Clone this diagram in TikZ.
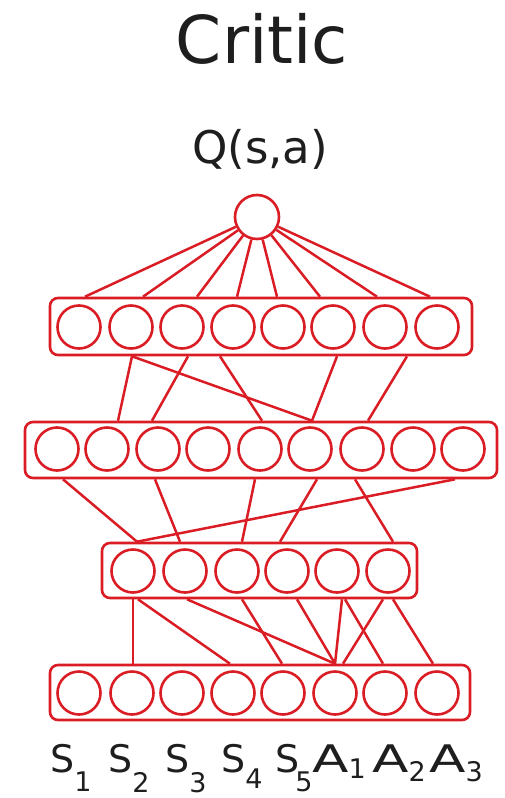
\documentclass[tikz,border=0pt]{standalone}
\usepackage{fontspec}
\usepackage{graphicx}
\usetikzlibrary{calc}
\newfontfamily\dv{DejaVu Sans}
\definecolor{nnred}{RGB}{218,28,36}
\definecolor{txt}{RGB}{30,30,30}
\newcommand\subl[2]{\raisebox{-#1pt}{\fontsize{27}{27}\selectfont #2}}
\newcommand\bigA{\scalebox{1.4}[1]{A}}
\begin{document}
\begin{tikzpicture}[x=1pt,y=-1pt,
 neuron/.style={circle,draw=nnred,line width=2.6pt,minimum size=43pt,inner sep=0pt},
 layerbox/.style={draw=nnred,line width=2.6pt,rounded corners=8pt,inner sep=0pt},
 link/.style={draw=nnred,line width=2.5pt},
 lbl/.style={anchor=base west,inner sep=0pt,text=txt,font=\dv\fontsize{38}{38}\selectfont}]
\useasboundingbox (0,0) rectangle (505,798);

% titles
\node[text=txt,font=\dv\fontsize{66}{66}\selectfont,anchor=base,inner sep=0pt] (title) at (262,63) {Critic};
\node[text=txt,font=\dv\fontsize{45}{45}\selectfont,anchor=base,inner sep=0pt] (q) at (260,163) {Q(s,a)};

% layer boxes
\node[layerbox,minimum width=422pt,minimum height=57pt] (L1) at (261,326.5) {};
\node[layerbox,minimum width=472pt,minimum height=56pt] (L2) at (261,450) {};
\node[layerbox,minimum width=315pt,minimum height=55pt] (L3) at (259.5,570.5) {};
\node[layerbox,minimum width=420pt,minimum height=55pt] (L4) at (260,692.5) {};

% neurons
\node[neuron,minimum size=44pt] (top) at (257,217) {};
\foreach \x [count=\i] in {79,131,182,233,283,333,385,437}
  \node[neuron] (l1c\i) at (\x,327) {};
\foreach \x [count=\i] in {57,107,158,208,260,310,362,413,463}
  \node[neuron] (l2c\i) at (\x,449) {};
\foreach \x [count=\i] in {133,185,237,287,337,388}
  \node[neuron] (l3c\i) at (\x,571) {};
\foreach \x [count=\i] in {79,132,182,233,283,335,385,437}
  \node[neuron] (l4c\i) at (\x,693) {};

% output fan
\foreach \i/\d in {1/6,2/12,3/15,4/4,5/-6,6/-13,7/-8,8/-7}
  \draw[link] (top) -- ($(L1.north -| l1c\i)+(\d,0)$);

% layer 1 -> layer 2
\foreach \a/\da/\b/\db in {2/1/2/11, 2/1/6/2, 3/6/3/-6, 4/-13/5/2, 6/4/6/2, 7/22/7/6}
  \draw[link] ($(L1.south -| l1c\a)+(\da,0)$) -- ($(L2.north -| l2c\b)+(\db,0)$);

% layer 2 -> layer 3
\foreach \a/\da/\b/\db in {1/6/1/4, 3/-3/2/-5, 5/-5/3/5, 6/7/4/-7, 7/-7/6/5, 9/-8/1/4}
  \draw[link] ($(L2.south -| l2c\a)+(\da,0)$) -- ($(L3.north -| l3c\b)+(\db,0)$);

% layer 3 -> layer 4
\foreach \a/\da/\b/\db in {1/0/2/1, 1/5/4/-3, 2/2/6/0, 3/5/5/-1, 4/10/6/0, 5/5/6/0, 5/8/7/-2, 6/-5/6/8, 6/5/8/-4}
  \draw[link] ($(L3.south -| l3c\a)+(\da,0)$) -- ($(L4.north -| l4c\b)+(\db,0)$);

% input labels
\node[lbl] (s1) at (50,772) {S\subl{19}{1}};
\node[lbl] (s2) at (108,772) {S\subl{20}{2}};
\node[lbl] (s3) at (165,772) {S\subl{20}{3}};
\node[lbl] (s4) at (221,772) {S\subl{16}{4}};
\node[lbl] (s5) at (275,772) {S\kern-4pt\subl{19}{5}};
\node[lbl] (a1) at (312,772) {\bigA\subl{6}{1}};
\node[lbl] (a2) at (372,772) {\bigA\subl{9}{2}};
\node[lbl] (a3) at (429,772) {\bigA\subl{9}{3}};
\end{tikzpicture}
\end{document}
